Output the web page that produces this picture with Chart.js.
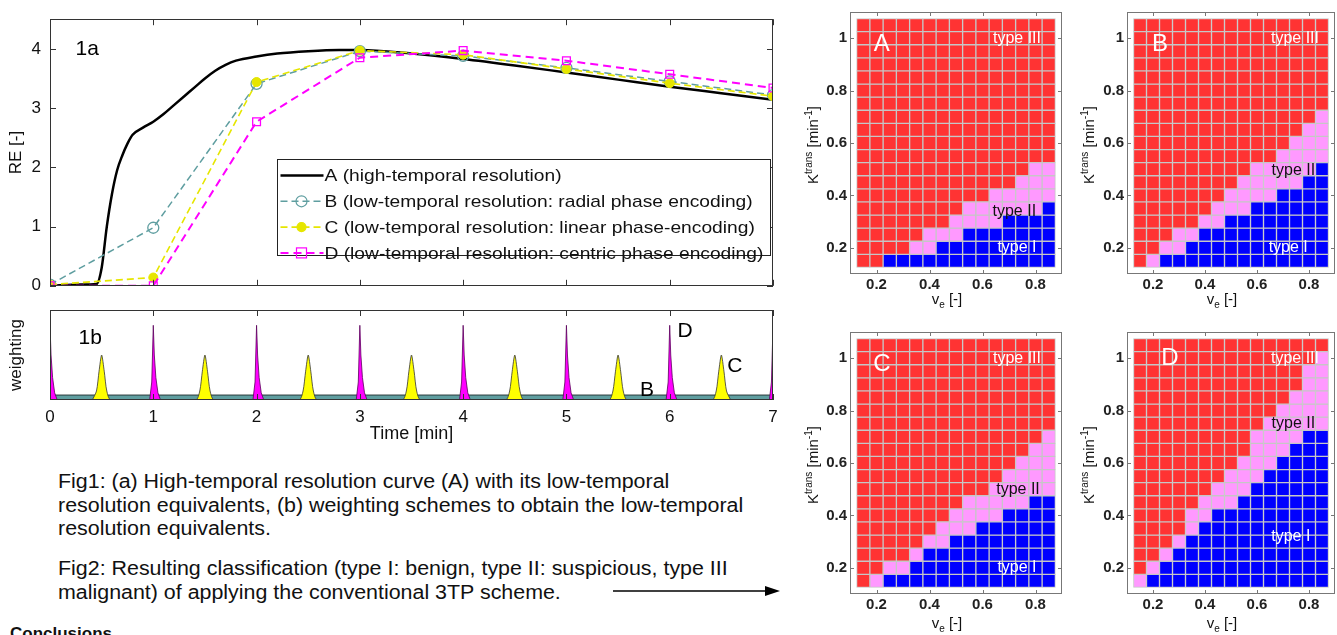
<!DOCTYPE html>
<html>
<head>
<meta charset="utf-8">
<script src="https://cdn.jsdelivr.net/npm/chart.js@4.4.1/dist/chart.umd.min.js"></script>
<style>
html, body { margin: 0; padding: 0; background: #fff; }
body { width: 1337px; height: 635px; overflow: hidden; position: relative;
       font-family: "Liberation Sans", Arial, sans-serif; color: #111; }
canvas { position: absolute; }
.cap { position: absolute; left: 58px; font-size: 20px; line-height: 23.5px; white-space: nowrap;
       transform: scaleX(1.07); transform-origin: left top; }
.ktitle { position: absolute; font-size: 15px; white-space: nowrap; transform: translate(-50%, -50%) rotate(-90deg); }
.vtitle { position: absolute; font-size: 15px; white-space: nowrap; transform: translate(-50%, -50%); }
.ktitle sup { font-size: 10px; vertical-align: 6px; line-height: 0; }
.vtitle sub { font-size: 10px; vertical-align: -4px; line-height: 0; }
.concl { position: absolute; left: 10px; top: 624px; font-size: 17px; font-weight: bold; }
</style>
</head>
<body>

<canvas id="c1a" width="790" height="305" style="left:0;top:0"></canvas>
<canvas id="c1b" width="790" height="140" style="left:0;top:305px"></canvas>
<canvas id="hA" width="275" height="315" style="left:790px;top:0"></canvas>
<canvas id="hB" width="270" height="315" style="left:1067px;top:0"></canvas>
<canvas id="hC" width="275" height="315" style="left:790px;top:320px"></canvas>
<canvas id="hD" width="270" height="315" style="left:1067px;top:320px"></canvas>

<div class="ktitle" style="left:812px;top:145px">K<sup>trans</sup> [min<sup>-1</sup>]</div>
<div class="ktitle" style="left:1088px;top:145px">K<sup>trans</sup> [min<sup>-1</sup>]</div>
<div class="ktitle" style="left:812px;top:465px">K<sup>trans</sup> [min<sup>-1</sup>]</div>
<div class="ktitle" style="left:1088px;top:465px">K<sup>trans</sup> [min<sup>-1</sup>]</div>
<div class="vtitle" style="left:947px;top:298px">v<sub>e</sub> [-]</div>
<div class="vtitle" style="left:1222px;top:298px">v<sub>e</sub> [-]</div>
<div class="vtitle" style="left:947px;top:622px">v<sub>e</sub> [-]</div>
<div class="vtitle" style="left:1222px;top:622px">v<sub>e</sub> [-]</div>

<div class="cap" style="top:470px">Fig1: (a) High-temporal resolution curve (A) with its low-temporal<br>resolution equivalents, (b) weighting schemes to obtain the low-temporal<br>resolution equivalents.</div>
<div class="cap" style="top:557px">Fig2: Resulting classification (type I: benign, type II: suspicious, type III<br>malignant) of applying the conventional 3TP scheme.</div>
<svg style="position:absolute;left:610px;top:583px" width="175" height="16">
  <line x1="3" y1="8" x2="158" y2="8" stroke="#000" stroke-width="1.6"/>
  <polygon points="155,3 170,8 155,13" fill="#000"/>
</svg>
<div class="concl">Conclusions</div>

<script>
// ---------- Fig 1a: relative enhancement curves ----------
const timeA = [0, 0.3, 0.45, 0.5, 0.55, 0.6, 0.65, 0.7, 0.75, 0.8, 0.9, 1.0, 1.1, 1.2, 1.3, 1.4, 1.5,
               1.6, 1.7, 1.8, 2.0, 2.2, 2.5, 2.8, 3.0, 3.5, 4.0, 4.5, 5.0, 5.5, 6.0, 6.5, 7.0];
const reA = [0, 0.02, 0.03, 0.3, 1.0, 1.55, 1.95, 2.2, 2.4, 2.55, 2.67, 2.77, 2.9, 3.05, 3.2, 3.35, 3.5,
             3.63, 3.73, 3.8, 3.87, 3.92, 3.96, 3.98, 3.98, 3.92, 3.83, 3.72, 3.6, 3.48, 3.36, 3.25, 3.14];
const timeLow = [0, 1, 2, 3, 4, 5, 6, 7];
const reB = [0.02, 0.98, 3.41, 3.96, 3.88, 3.68, 3.45, 3.22];
const reC = [0.02, 0.14, 3.44, 3.97, 3.9, 3.66, 3.42, 3.2];
const reD = [0, 0, 2.77, 3.85, 3.97, 3.8, 3.57, 3.34];
const seriesLabels = [
    "A (high-temporal resolution)",
    "B (low-temporal resolution: radial phase encoding)",
    "C (low-temporal resolution: linear phase-encoding)",
    "D (low-temporal resolution: centric phase encoding)"
];
const timeTicks = [0, 1, 2, 3, 4, 5, 6, 7];
const reTicks = [0, 1, 2, 3, 4];

// ---------- Fig 1b: weighting schemes ----------
const spikeTimesD = [0, 1, 2, 3, 4, 5, 6, 7];
const spikeShapeDt = [-0.035, -0.015, 0, 0.01, 0.025, 0.045, 0.07];
const spikeShapeDw = [0, 0.2, 0.83, 0.5, 0.25, 0.08, 0];
const spikeTimesC = [0.5, 1.5, 2.5, 3.5, 4.5, 5.5, 6.5];
const spikeShapeCt = [-0.09, -0.05, -0.025, 0, 0.025, 0.05, 0.09];
const spikeShapeCw = [0, 0.1, 0.32, 0.5, 0.32, 0.1, 0];
const weightB = 0.055;

// ---------- Fig 2: 3TP classification maps ----------
const veValues = [0.15, 0.2, 0.25, 0.3, 0.35, 0.4, 0.45, 0.5, 0.55, 0.6, 0.65, 0.7, 0.75, 0.8, 0.85];
const ktransValues = [0.15, 0.2, 0.25, 0.3, 0.35, 0.4, 0.45, 0.5, 0.55, 0.6, 0.65, 0.7, 0.75,
                      0.8, 0.85, 0.9, 0.95, 1.0, 1.05];
// per v_e column: number of type I cells from the bottom, and type I + type II cells
const type1RowsA = [0, 0, 1, 1, 1, 1, 2, 2, 3, 3, 3, 4, 4, 4, 5];
const type12RowsA = [0, 0, 1, 1, 2, 3, 3, 4, 5, 5, 6, 6, 7, 8, 8];
const type1RowsB = [0, 0, 1, 1, 2, 3, 3, 4, 4, 5, 5, 6, 6, 7, 8];
const type12RowsB = [0, 1, 2, 3, 3, 4, 5, 6, 7, 8, 8, 9, 10, 11, 12];
const type1RowsC = [0, 0, 1, 1, 2, 3, 3, 4, 4, 5, 5, 6, 6, 7, 7];
const type12RowsC = [0, 1, 2, 2, 3, 4, 5, 6, 7, 7, 8, 9, 10, 11, 12];
const type1RowsD = [0, 1, 2, 3, 4, 5, 6, 6, 7, 8, 9, 10, 11, 12, 12];
const type12RowsD = [1, 2, 3, 4, 6, 7, 8, 9, 10, 12, 13, 14, 15, 17, 18];
const veTicks = [0.2, 0.4, 0.6, 0.8];
const ktransTicks = [0.2, 0.4, 0.6, 0.8, 1];

Chart.defaults.font.family = '"Liberation Sans", Arial, sans-serif';
Chart.defaults.color = '#111';

// =====================================================
// PLUGINS
// =====================================================
// Matlab-like box with inward ticks on all four sides
function framePlugin(xTicks, yTicks, len, color) {
    return {
        id: 'frame',
        afterDatasetsDraw(chart) {
            const { ctx, chartArea: a, scales: { x, y } } = chart;
            ctx.save();
            ctx.strokeStyle = color;
            ctx.lineWidth = 1;
            ctx.beginPath();
            xTicks.forEach(v => {
                const px = Math.round(x.getPixelForValue(v)) + 0.5;
                ctx.moveTo(px, a.bottom); ctx.lineTo(px, a.bottom - len);
                ctx.moveTo(px, a.top); ctx.lineTo(px, a.top + len);
            });
            yTicks.forEach(v => {
                const py = Math.round(y.getPixelForValue(v)) + 0.5;
                ctx.moveTo(a.left, py); ctx.lineTo(a.left + len, py);
                ctx.moveTo(a.right, py); ctx.lineTo(a.right - len, py);
            });
            ctx.stroke();
            ctx.strokeRect(Math.round(a.left) + 0.5, Math.round(a.top) + 0.5,
                           Math.round(a.width) - 1, Math.round(a.height) - 1);
            ctx.restore();
        }
    };
}

// free text placed in data coordinates
function textPlugin(items) {
    return {
        id: 'labels',
        afterDraw(chart) {
            const { ctx, scales: { x, y } } = chart;
            ctx.save();
            ctx.textAlign = 'center';
            ctx.textBaseline = 'middle';
            items.forEach(it => {
                ctx.font = it.font;
                ctx.fillStyle = it.color;
                ctx.fillText(it.text, x.getPixelForValue(it.x), y.getPixelForValue(it.y));
            });
            ctx.restore();
        }
    };
}

// legend box inside 1a
const legendPlugin = {
    id: 'boxLegend',
    afterDraw(chart) {
        const { ctx, scales: { x, y } } = chart;
        const l = Math.round(x.getPixelForValue(2.2)) + 0.5;
        const r = Math.round(x.getPixelForValue(6.97)) + 0.5;
        const t = Math.round(y.getPixelForValue(2.14)) + 0.5;
        const b = Math.round(y.getPixelForValue(0.52)) + 0.5;
        ctx.save();
        ctx.fillStyle = '#fff';
        ctx.fillRect(l, t, r - l, b - t);
        ctx.strokeStyle = '#222';
        ctx.lineWidth = 1;
        ctx.strokeRect(l, t, r - l, b - t);
        ctx.font = '17px "Liberation Sans", Arial, sans-serif';
        ctx.textBaseline = 'middle';
        chart.data.datasets.forEach((ds, i) => {
            const yy = t + 16 + i * 25.8;
            ctx.strokeStyle = ds.borderColor;
            ctx.lineWidth = ds.borderWidth;
            ctx.setLineDash(ds.borderDash || []);
            ctx.beginPath();
            ctx.moveTo(l + 3, yy); ctx.lineTo(l + 46, yy);
            ctx.stroke();
            ctx.setLineDash([]);
            const mx = l + 24;
            ctx.lineWidth = 1.2;
            if (ds.pointStyle === 'circle' && ds.pointRadius > 0) {
                ctx.beginPath();
                ctx.arc(mx, yy, ds.pointRadius, 0, Math.PI * 2);
                if (ds.pointBackgroundColor !== 'transparent') {
                    ctx.fillStyle = ds.pointBackgroundColor; ctx.fill();
                }
                ctx.strokeStyle = ds.borderColor; ctx.stroke();
            } else if (ds.pointStyle === 'rect') {
                ctx.strokeStyle = ds.borderColor;
                ctx.strokeRect(mx - 5, yy - 5, 10, 10);
            }
            // the original figure's lettering is a little wider than Arial
            ctx.save();
            ctx.translate(l + 47, yy + 1);
            ctx.scale(1.13, 1);
            ctx.fillStyle = '#111';
            ctx.fillText(seriesLabels[i], 0, 0);
            ctx.restore();
        });
        ctx.restore();
    }
};

function fixedTicks(values) {
    return axis => { axis.ticks = values.map(v => ({ value: v })); };
}

const noGrid = { display: false, drawTicks: false };

// =====================================================
// FIG 1a
// =====================================================
const toXY = (xs, ys) => xs.map((v, i) => ({ x: v, y: ys[i] }));

new Chart(document.getElementById('c1a'), {
    type: 'line',
    data: {
        datasets: [
            { label: seriesLabels[0], data: toXY(timeA, reA), borderColor: '#000', borderWidth: 2.5,
              pointRadius: 0, pointStyle: false, cubicInterpolationMode: 'monotone', order: 4 },
            { label: seriesLabels[1], data: toXY(timeLow, reB), borderColor: '#5f9ea0', borderWidth: 1.5,
              borderDash: [7, 4], pointStyle: 'circle', pointRadius: 5.5, pointBorderWidth: 1.3,
              pointBackgroundColor: 'transparent', pointBorderColor: '#5f9ea0', order: 3 },
            { label: seriesLabels[2], data: toXY(timeLow, reC), borderColor: '#e6e600', borderWidth: 1.6,
              borderDash: [7, 4], pointStyle: 'circle', pointRadius: 4.5, pointBorderWidth: 1,
              pointBackgroundColor: '#e6e600', pointBorderColor: '#e6e600', order: 2 },
            { label: seriesLabels[3], data: toXY(timeLow, reD), borderColor: '#ff00ff', borderWidth: 2,
              borderDash: [8, 5], pointStyle: 'rect', pointRadius: 5.5, pointBorderWidth: 1.3,
              pointBackgroundColor: 'transparent', pointBorderColor: '#ff00ff', order: 1 }
        ]
    },
    options: {
        responsive: false, animation: false, events: [],
        layout: { padding: { top: 10, right: 17, bottom: 5, left: 0 } },
        scales: {
            x: { type: 'linear', min: 0, max: 7, display: false },
            y: {
                type: 'linear', min: 0, max: 4.5,
                afterBuildTicks: fixedTicks(reTicks),
                afterFit: s => { s.width = 50; },
                grid: noGrid, border: { display: false },
                ticks: { font: { size: 17 }, padding: 9, color: '#111' },
                title: { display: true, text: 'RE [-]', font: { size: 17 }, padding: { top: 6, bottom: 0 } }
            }
        },
        plugins: { legend: { display: false }, tooltip: { enabled: false } }
    },
    plugins: [
        framePlugin(timeTicks, reTicks, 6, '#333'),
        textPlugin([{ text: '1a', x: 0.36, y: 3.99, font: '21px "Liberation Sans", Arial', color: '#000' }]),
        legendPlugin
    ]
});

// =====================================================
// FIG 1b
// =====================================================
function spikeSeries(centres, dt, w) {
    const pts = [];
    centres.forEach(c => dt.forEach((d, i) => pts.push({ x: c + d, y: w[i] })));
    return pts;
}

new Chart(document.getElementById('c1b'), {
    type: 'line',
    data: {
        datasets: [
            { label: 'B', data: [{ x: 0, y: weightB }, { x: 7, y: weightB }], borderColor: '#2a3a3a',
              borderWidth: 1, backgroundColor: '#5f9ea0', fill: 'origin', pointRadius: 0, order: 3 },
            { label: 'C', data: spikeSeries(spikeTimesC, spikeShapeCt, spikeShapeCw), borderColor: '#333',
              borderWidth: 0.8, backgroundColor: '#ffff00', fill: 'origin', pointRadius: 0,
              tension: 0.25, order: 2 },
            { label: 'D', data: spikeSeries(spikeTimesD, spikeShapeDt, spikeShapeDw), borderColor: '#5a005a',
              borderWidth: 0.8, backgroundColor: '#ff00ff', fill: 'origin', pointRadius: 0, order: 1 }
        ]
    },
    options: {
        responsive: false, animation: false, events: [],
        layout: { padding: { top: 5, right: 17, bottom: 0, left: 0 } },
        scales: {
            x: {
                type: 'linear', min: 0, max: 7,
                afterBuildTicks: fixedTicks(timeTicks),
                afterFit: s => { s.height = 45; },
                grid: noGrid, border: { display: false },
                ticks: { font: { size: 17 }, padding: 7, color: '#111', maxRotation: 0 },
                title: { display: true, text: 'Time [min]', font: { size: 18 }, padding: { top: 0, bottom: 0 } }
            },
            y: {
                type: 'linear', min: 0, max: 1,
                afterFit: s => { s.width = 50; },
                grid: noGrid, border: { display: false },
                ticks: { display: false },
                title: { display: true, text: 'weighting', font: { size: 17 }, padding: { top: 6, bottom: 0 } }
            }
        },
        plugins: { legend: { display: false }, tooltip: { enabled: false } }
    },
    plugins: [
        framePlugin(timeTicks, [], 6, '#333'),
        textPlugin([
            { text: '1b', x: 0.39, y: 0.69, font: '21px "Liberation Sans", Arial', color: '#000' },
            { text: 'D', x: 6.15, y: 0.76, font: '21px "Liberation Sans", Arial', color: '#000' },
            { text: 'C', x: 6.63, y: 0.37, font: '21px "Liberation Sans", Arial', color: '#000' },
            { text: 'B', x: 5.78, y: 0.11, font: '21px "Liberation Sans", Arial', color: '#000' }
        ])
    ]
});

// =====================================================
// FIG 2 HEATMAPS
// =====================================================
function heatDatasets(type1Rows, type12Rows) {
    const groups = { I: [], II: [], III: [] };
    const half = (ktransValues[1] - ktransValues[0]) / 2;
    veValues.forEach((ve, c) => {
        ktransValues.forEach((k, r) => {
            const cls = r < type1Rows[c] ? 'I' : (r < type12Rows[c] ? 'II' : 'III');
            groups[cls].push({ x: ve, y: [k - half, k + half] });
        });
    });
    return [['I', '#0000ff'], ['II', '#ff99ff'], ['III', '#ff3333']].map(([key, col]) => ({
        label: 'type ' + key, data: groups[key], backgroundColor: col,
        borderColor: '#c6c6c6', borderWidth: 1, borderSkipped: false,
        grouped: false, barPercentage: 1, categoryPercentage: 1
    }));
}

function heatmap(id, type1Rows, type12Rows, rightPad, labels) {
    const white = '#fff';
    const f = '16px "Liberation Sans", Arial';
    new Chart(document.getElementById(id), {
        type: 'bar',
        data: { datasets: heatDatasets(type1Rows, type12Rows) },
        options: {
            responsive: false, animation: false, events: [],
            layout: { padding: { top: 9, right: rightPad, bottom: 0, left: 0 } },
            scales: {
                x: {
                    type: 'linear', min: 0.1, max: 0.9, offset: false,
                    afterBuildTicks: fixedTicks(veTicks),
                    afterFit: s => { s.height = 41; },
                    grid: noGrid, border: { display: false },
                    ticks: { font: { size: 15, weight: 'bold' }, padding: 2, color: '#222', maxRotation: 0,
                             callback: v => v.toFixed(1) }
                },
                y: {
                    type: 'linear', min: 0.1, max: 1.1,
                    afterBuildTicks: fixedTicks(ktransTicks),
                    afterFit: s => { s.width = 60; },
                    grid: noGrid, border: { display: false },
                    ticks: { font: { size: 15, weight: 'bold' }, padding: 3, color: '#222',
                             callback: v => (v === 1 ? '1' : v.toFixed(1)) }
                }
            },
            plugins: { legend: { display: false }, tooltip: { enabled: false } }
        },
        plugins: [
            framePlugin(veTicks, ktransTicks, 4, '#777'),
            textPlugin([
                { text: labels.letter, x: labels.lx, y: labels.ly, font: '24px "Liberation Sans", Arial', color: white },
                { text: 'type III', x: labels.t3[0], y: labels.t3[1], font: f, color: white },
                { text: 'type II', x: labels.t2[0], y: labels.t2[1], font: f, color: '#111' },
                { text: 'type I', x: labels.t1[0], y: labels.t1[1], font: f, color: white }
            ])
        ]
    });
}

heatmap('hA', type1RowsA, type12RowsA, 3,
        { letter: 'A', lx: 0.22, ly: 0.975, t3: [0.73, 1.0], t2: [0.72, 0.34], t1: [0.73, 0.2] });
heatmap('hB', type1RowsB, type12RowsB, 2,
        { letter: 'B', lx: 0.227, ly: 0.975, t3: [0.746, 1.0], t2: [0.74, 0.496], t1: [0.72, 0.2] });
heatmap('hC', type1RowsC, type12RowsC, 3,
        { letter: 'C', lx: 0.22, ly: 0.975, t3: [0.73, 1.0], t2: [0.734, 0.5], t1: [0.73, 0.2] });
heatmap('hD', type1RowsD, type12RowsD, 2,
        { letter: 'D', lx: 0.265, ly: 1.0, t3: [0.746, 1.0], t2: [0.74, 0.75], t1: [0.73, 0.32] });
</script>
</body>
</html>
